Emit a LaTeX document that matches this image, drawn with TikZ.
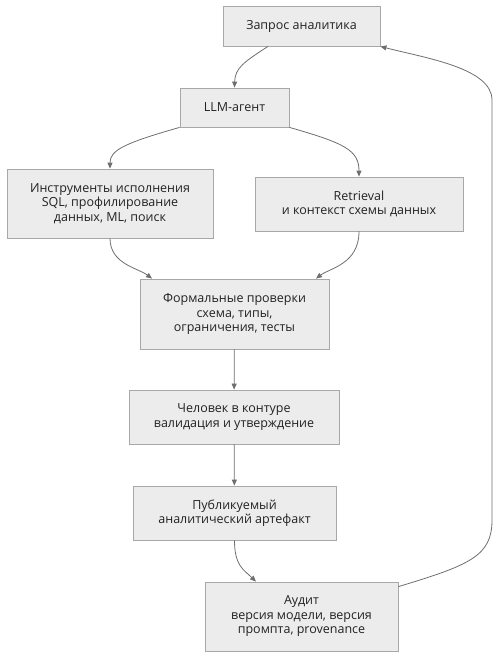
\documentclass[tikz,border=0pt]{standalone}
\usepackage{fontspec}
\setmainfont{Open Sans}
\usetikzlibrary{arrows.meta}
\definecolor{boxfill}{HTML}{ECECEC}
\definecolor{boxline}{HTML}{A8A8A8}
\definecolor{edgeline}{HTML}{6E6E6E}
\definecolor{textcol}{HTML}{222222}
\tikzset{
  box/.style={draw=boxline, fill=boxfill, line width=0.8pt, align=center, text=textcol,
    font=\fontsize{12.5}{14.5}\selectfont, inner sep=0pt},
  edge/.style={draw=edgeline, line width=0.8pt, -{Triangle[length=6pt,width=5pt]}}
}
\begin{document}
\begin{tikzpicture}[x=1pt, y=-1pt]
\useasboundingbox (0,0) rectangle (499,658);

\node [box, minimum width=157pt, minimum height=40pt] (query) at (301.5,26) {Запрос аналитика};
\node [box, minimum width=109pt, minimum height=39pt] (agent) at (234.5,107.5) {LLM-агент};
\node [box, minimum width=206pt, minimum height=69pt] (tools) at (110,203.5) {Инструменты исполнения\\SQL, профилирование\\данных, ML, поиск};
\node [box, minimum width=208pt, minimum height=54pt] (retr) at (359,204) {Retrieval\\и контекст схемы данных};
\node [box, minimum width=189pt, minimum height=70pt] (checks) at (234.5,314) {Формальные проверки\\схема, типы,\\ограничения, тесты};
\node [box, minimum width=210pt, minimum height=54pt] (human) at (234,417) {Человек в контуре\\валидация и утверждение};
\node [box, minimum width=203pt, minimum height=54pt] (publ) at (234.5,513) {Публикуемый\\аналитический артефакт};
\node [box, minimum width=193pt, minimum height=69pt] (audit) at (301.5,616.5) {Аудит\\версия модели, версия\\промпта, provenance};

\draw [edge] ([xshift=-33.5pt]query.south) .. controls (244,62) and (235,68) .. (agent.north);
\draw [edge] (agent.south west) .. controls (125,143) and (110,150) .. (tools.north);
\draw [edge] (agent.south east) .. controls (344,143) and (359,150) .. (retr.north);
\draw [edge] (tools.south) .. controls (110,264) and (138,268) .. ([xshift=-82.5pt]checks.north);
\draw [edge] (retr.south) .. controls (359,264) and (330,268) .. ([xshift=81.5pt]checks.north);
\draw [edge] (checks) -- (human);
\draw [edge] (human) -- (publ);
\draw [edge] (publ.south) .. controls (234.5,566) and (244,570) .. ([xshift=-45.5pt]audit.north);
\draw [edge] ([yshift=-5pt]audit.north east) .. controls (470,565) and (492,556) .. (492,520)
  -- (492,100) .. controls (492,68) and (425,58) .. (query.south east);
\end{tikzpicture}
\end{document}
